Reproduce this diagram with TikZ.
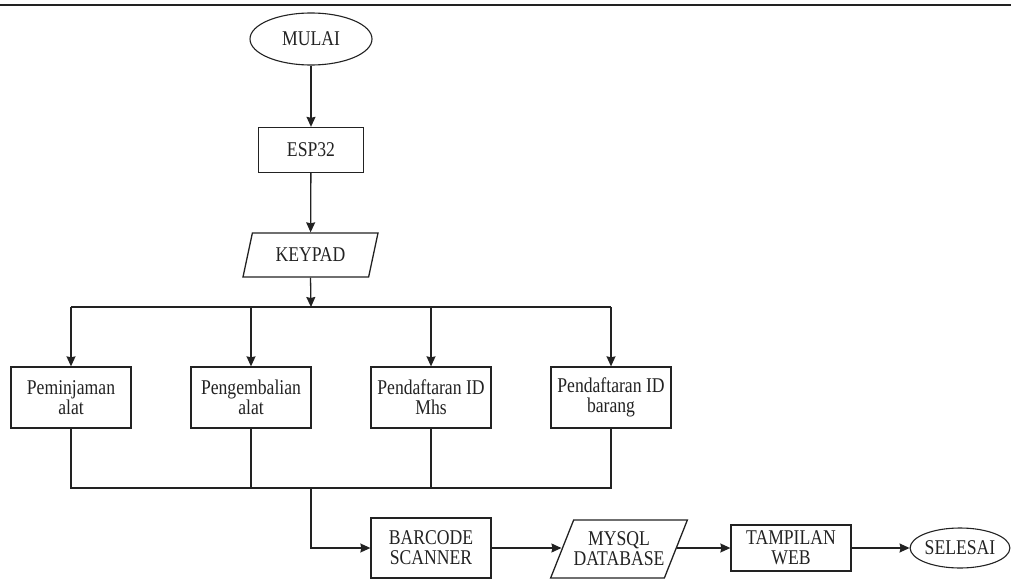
\documentclass[tikz,border=0pt]{standalone}
\usepackage{fontspec}
\setmainfont{Liberation Serif}[FakeStretch=0.84]
\usetikzlibrary{shapes.geometric,arrows.meta,calc}
\definecolor{ink}{HTML}{222222}
\begin{document}
\begin{tikzpicture}[x=1pt,y=-1pt,
  every node/.style={font=\fontsize{21}{20}\selectfont, text=ink, align=center, inner sep=0pt},
  box/.style={draw=ink, line width=1.3pt, rectangle, minimum width=120pt},
  term/.style={draw=ink, line width=1.1pt, ellipse},
  io/.style={draw=ink, line width=1.3pt, trapezium, trapezium left angle=56, trapezium right angle=124, trapezium stretches body},
  conn/.style={draw=ink, line width=1.3pt},
  arr/.style={conn, -{Stealth[length=10pt,width=9pt,inset=1pt]}}]
\useasboundingbox (0,0) rectangle (1011,580);
\draw[ink, line width=2.5pt] (0,5) -- (1011,5);

\node[term, minimum width=122pt, minimum height=52pt] (mulai) at (311,39) {MULAI};
\node[box, minimum width=105pt, minimum height=45pt] (esp) at (311,150) {ESP32};
\node[io, minimum width=135pt, minimum height=44pt] (keypad) at (310.5,255) {KEYPAD};

\node[box, minimum height=61pt] (p1) at (71,397.5) {Peminjaman\\alat};
\node[box, minimum height=61pt] (p2) at (251,397.5) {Pengembalian\\alat};
\node[box, minimum height=61pt] (p3) at (431,397.5) {Pendaftaran ID\\Mhs};
\node[box, minimum height=61pt] (p4) at (611,397.5) {Pendaftaran ID\\barang};

\node[box, minimum height=60pt] (barcode) at (431,548) {BARCODE\\SCANNER};
\node[io, minimum width=134pt, minimum height=58pt] (mysql) at (619,549) {MYSQL\\DATABASE};
\node[box, minimum height=46pt] (web) at (791,548) {TAMPILAN\\WEB};
\node[term, minimum width=97pt, minimum height=40pt] (selesai) at (960,548) {SELESAI};

\coordinate (split) at (311,307);
\coordinate (join) at (311,488);

\draw[arr] (mulai) -- (esp);
\draw[arr] (esp) -- (keypad);
\draw[arr] (keypad.south) -- (split);
\draw[conn] (p1.north |- split) -- (p4.north |- split);
\foreach \n in {p1,p2,p3,p4}{
  \draw[arr] (\n.north |- split) -- (\n.north);
}
\draw[conn] (p1.south) -- (p1.south |- join) -- (p4.south |- join) -- (p4.south);
\draw[conn] (p2.south) -- (p2.south |- join);
\draw[conn] (p3.south) -- (p3.south |- join);
\draw[arr] (join) -- (join |- barcode.west) -- (barcode.west);
\draw[arr] (barcode.east) -- (barcode.east -| mysql.west);
\draw[arr] (mysql.east |- web.west) -- (web.west);
\draw[arr] (web.east) -- (selesai.west);
\end{tikzpicture}
\end{document}
